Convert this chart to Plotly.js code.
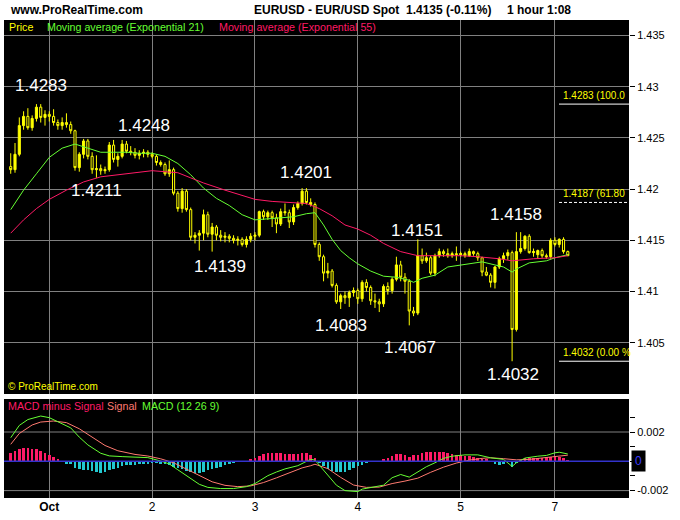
<!DOCTYPE html>
<html><head><meta charset="utf-8">
<script src="https://cdn.plot.ly/plotly-3.0.1.min.js"></script>
<style>html,body{margin:0;padding:0;background:#fff;}#chart{width:680px;height:520px;}</style>
</head><body><div id="chart"></div>
<script>
// ---- Data (hourly EUR/USD, hour index 0 = Oct 1 00:00) ----
const firstHour = -9;
const open  = [1.4222,1.4219,1.4234,1.4262,1.4271,1.4260,1.4269,1.4280,1.4270,1.4273,1.4271,1.4265,1.4262,1.4265,1.4263,1.4257,1.4221,1.4234,1.4247,1.4232,1.4219,1.4220,1.4218,1.4219,1.4243,1.4229,1.4232,1.4244,1.4237,1.4236,1.4233,1.4235,1.4236,1.4234,1.4232,1.4226,1.4224,1.4215,1.4219,1.4196,1.4181,1.4198,1.4180,1.4153,1.4155,1.4157,1.4175,1.4156,1.4163,1.4155,1.4153,1.4154,1.4152,1.4150,1.4151,1.4146,1.4151,1.4154,1.4155,1.4178,1.4173,1.4177,1.4172,1.4166,1.4178,1.4177,1.4168,1.4182,1.4186,1.4198,1.4187,1.4185,1.4146,1.4134,1.4118,1.4120,1.4106,1.4090,1.4096,1.4094,1.4099,1.4101,1.4093,1.4109,1.4104,1.4091,1.4090,1.4088,1.4105,1.4101,1.4112,1.4126,1.4114,1.4110,1.4081,1.4079,1.4135,1.4130,1.4133,1.4118,1.4135,1.4139,1.4137,1.4135,1.4137,1.4136,1.4137,1.4135,1.4139,1.4137,1.4133,1.4119,1.4116,1.4109,1.4124,1.4132,1.4135,1.4138,1.4063,1.4139,1.4142,1.4154,1.4138,1.4136,1.4140,1.4135,1.4134,1.4150,1.4146,1.4151,1.4139];
const high  = [1.4235,1.4245,1.4270,1.4276,1.4279,1.4272,1.4283,1.4283,1.4277,1.4276,1.4278,1.4268,1.4270,1.4274,1.4266,1.4258,1.4236,1.4249,1.4249,1.4236,1.4233,1.4224,1.4222,1.4246,1.4248,1.4235,1.4248,1.4247,1.4242,1.4240,1.4238,1.4239,1.4238,1.4236,1.4234,1.4228,1.4226,1.4228,1.4221,1.4198,1.4201,1.4200,1.4182,1.4158,1.4160,1.4180,1.4178,1.4167,1.4165,1.4160,1.4158,1.4156,1.4155,1.4154,1.4153,1.4154,1.4157,1.4158,1.4179,1.4180,1.4179,1.4179,1.4176,1.4181,1.4186,1.4180,1.4185,1.4188,1.4201,1.4201,1.4191,1.4187,1.4148,1.4136,1.4128,1.4122,1.4108,1.4098,1.4100,1.4101,1.4104,1.4103,1.4111,1.4112,1.4106,1.4098,1.4093,1.4107,1.4109,1.4114,1.4134,1.4130,1.4118,1.4112,1.4085,1.4151,1.4142,1.4138,1.4135,1.4137,1.4142,1.4141,1.4142,1.4139,1.4144,1.4139,1.4139,1.4142,1.4140,1.4139,1.4134,1.4124,1.4118,1.4125,1.4134,1.4138,1.4141,1.4140,1.4158,1.4158,1.4155,1.4156,1.4142,1.4141,1.4142,1.4137,1.4152,1.4153,1.4152,1.4153,1.4140];
const low   = [1.4215,1.4216,1.4232,1.4258,1.4258,1.4257,1.4266,1.4265,1.4262,1.4266,1.4262,1.4258,1.4258,1.4260,1.4254,1.4218,1.4217,1.4230,1.4229,1.4215,1.4211,1.4214,1.4215,1.4217,1.4226,1.4222,1.4230,1.4235,1.4233,1.4230,1.4229,1.4231,1.4231,1.4230,1.4223,1.4222,1.4213,1.4212,1.4194,1.4178,1.4177,1.4178,1.4150,1.4147,1.4140,1.4150,1.4153,1.4139,1.4150,1.4149,1.4148,1.4148,1.4147,1.4145,1.4144,1.4143,1.4148,1.4150,1.4153,1.4170,1.4170,1.4163,1.4157,1.4164,1.4174,1.4162,1.4165,1.4180,1.4184,1.4185,1.4183,1.4143,1.4130,1.4110,1.4113,1.4104,1.4088,1.4083,1.4088,1.4085,1.4095,1.4088,1.4090,1.4100,1.4087,1.4084,1.4080,1.4085,1.4097,1.4098,1.4110,1.4110,1.4098,1.4067,1.4076,1.4077,1.4127,1.4128,1.4116,1.4115,1.4133,1.4134,1.4133,1.4133,1.4130,1.4134,1.4133,1.4134,1.4135,1.4130,1.4115,1.4115,1.4104,1.4103,1.4122,1.4128,1.4131,1.4032,1.4061,1.4137,1.4140,1.4137,1.4134,1.4132,1.4133,1.4132,1.4132,1.4144,1.4143,1.4137,1.4135];
const close = [1.4219,1.4234,1.4262,1.4271,1.4260,1.4269,1.4280,1.4270,1.4273,1.4271,1.4265,1.4262,1.4265,1.4263,1.4257,1.4221,1.4234,1.4247,1.4232,1.4219,1.4220,1.4218,1.4219,1.4243,1.4229,1.4232,1.4244,1.4237,1.4236,1.4233,1.4235,1.4236,1.4234,1.4232,1.4226,1.4224,1.4215,1.4219,1.4196,1.4181,1.4198,1.4180,1.4153,1.4155,1.4157,1.4175,1.4156,1.4163,1.4155,1.4153,1.4154,1.4152,1.4150,1.4151,1.4146,1.4151,1.4154,1.4155,1.4178,1.4173,1.4177,1.4172,1.4166,1.4178,1.4177,1.4168,1.4182,1.4186,1.4198,1.4187,1.4185,1.4146,1.4134,1.4118,1.4120,1.4106,1.4090,1.4096,1.4094,1.4099,1.4101,1.4093,1.4109,1.4104,1.4091,1.4090,1.4088,1.4105,1.4101,1.4112,1.4126,1.4114,1.4110,1.4081,1.4079,1.4135,1.4130,1.4133,1.4118,1.4135,1.4139,1.4137,1.4135,1.4137,1.4136,1.4137,1.4135,1.4139,1.4137,1.4133,1.4119,1.4116,1.4109,1.4124,1.4132,1.4135,1.4138,1.4063,1.4139,1.4142,1.4154,1.4138,1.4139,1.4140,1.4135,1.4134,1.4150,1.4146,1.4151,1.4139,1.4135];

// Moving averages (hour index, value)
const ema21Hours = [-9,-6,-3,0,3,6,9,12,15,18,21,24,27,30,33,36,39,42,45,48,51,54,57,60,62,64,66,68,70,72,75,78,81,84,85,87,90,93,96,99,101,104,106,108,109,112,116,118,121];
const ema21 = [1.4180,1.4199,1.4215,1.4231,1.4240,1.4244,1.4240,1.4236,1.4236,1.4236,1.4235,1.4235,1.4232,1.4225,1.4214,1.4201,1.4191,1.4184,1.4175,1.4170,1.4171,1.4172,1.4173,1.4176,1.4177,1.4165,1.4151,1.4140,1.4133,1.4127,1.4120,1.4115,1.4114,1.4111,1.4109,1.4113,1.4116,1.4124,1.4126,1.4128,1.4129,1.4126,1.4124,1.4119,1.4122,1.4128,1.4130,1.4133,1.4136];
const ema55Hours = [-9,-6,-3,0,4,8,12,16,20,24,27,30,33,36,41,45,48,52,56,60,63,66,69,72,75,78,82,86,90,96,100,105,108,113,118,121];
const ema55 = [1.4157,1.4170,1.4181,1.4190,1.4199,1.4207,1.4212,1.4214,1.4216,1.4218,1.4217,1.4216,1.4211,1.4206,1.4199,1.4194,1.4190,1.4188,1.4187,1.4186,1.4181,1.4174,1.4165,1.4161,1.4155,1.4147,1.4139,1.4135,1.4135,1.4135,1.4134,1.4132,1.4130,1.4132,1.4133,1.4135];

// MACD (12 26 9)
const histogram = [5.9,7.0,8.6,9.3,8.9,8.6,8.2,7.0,5.9,4.1,3.0,1.8,-0.2,-1.6,-2.0,-4.3,-5.5,-5.9,-5.9,-6.6,-7.3,-7.7,-7.3,-5.9,-5.0,-4.3,-3.2,-2.7,-2.7,-2.3,-1.8,-1.8,-1.6,-1.4,-1.4,-1.6,-2.0,-2.7,-3.6,-4.3,-5.5,-6.6,-7.3,-7.7,-7.7,-7.3,-5.9,-5.0,-4.3,-3.6,-2.7,-1.6,-0.9,-0.3,0.0,0.4,1.4,2.3,3.6,4.8,5.5,5.9,5.9,5.5,5.2,4.8,4.8,5.2,5.5,5.9,4.1,2.5,-0.9,-3.2,-5.0,-6.6,-7.5,-7.5,-7.0,-5.7,-4.8,-3.5,-2.2,-0.9,-0.4,0.0,0.3,1.8,2.4,3.5,4.8,5.3,4.0,2.9,4.0,4.6,5.7,6.6,6.2,6.2,6.2,6.2,5.7,5.3,4.6,4.0,3.5,3.5,3.1,2.4,1.8,1.3,0.3,-2.0,-2.4,-1.5,0.5,-4.2,-0.9,0.9,2.2,2.4,2.2,2.2,2.4,2.9,3.1,3.1,2.9,2.2,0.9];
const macdHours = [-9,-7,-5,-2,0,2,5,7,9,12,14,17,20,23,26,28,30,33,35,37,40,43,46,48,51,53,55,58,60,61,62,65,67,69,72,73,76,78,80,82,84,86,88,90,92,94,97,100,103,106,108,109,111,114,116,118,119,121];
const macd = [0.00161,0.00245,0.00285,0.00309,0.00298,0.00272,0.00228,0.00165,0.00112,0.00055,0.00037,0.00032,0.00030,0.00025,0.00002,-0.00018,-0.00058,-0.00115,-0.00157,-0.00178,-0.00186,-0.00186,-0.00173,-0.00152,-0.00098,-0.00073,-0.00052,-0.00030,0.00000,0.00014,0.00008,-0.00090,-0.00163,-0.00200,-0.00207,-0.00190,-0.00172,-0.00163,-0.00112,-0.00090,-0.00108,-0.00075,-0.00037,-0.00010,0.00020,0.00035,0.00044,0.00044,0.00024,0.00013,-0.00035,-0.00010,0.00022,0.00035,0.00040,0.00058,0.00062,0.00050];
const signalHours = [-9,-7,-4,-2,1,4,7,10,13,16,20,23,26,29,32,35,38,41,44,47,50,53,56,59,61,62,65,68,71,74,77,80,83,86,89,92,95,98,101,103,106,109,112,115,118,121];
const signal = [0.00116,0.00190,0.00248,0.00268,0.00275,0.00264,0.00222,0.00165,0.00108,0.00072,0.00047,0.00036,0.00017,-0.00010,-0.00055,-0.00100,-0.00140,-0.00164,-0.00173,-0.00168,-0.00145,-0.00113,-0.00078,-0.00045,-0.00030,-0.00020,-0.00050,-0.00110,-0.00162,-0.00178,-0.00176,-0.00152,-0.00135,-0.00115,-0.00075,-0.00040,-0.00012,0.00008,0.00020,0.00024,0.00018,0.00010,0.00013,0.00023,0.00035,0.00042];

const dayTicks = [0,24,48,72,96,118];
const dayLabels = ['<b>Oct</b>','2','3','4','5','7'];
const priceTicks = [1.405,1.41,1.415,1.42,1.425,1.43,1.435];
const priceTickText = ['1.405','1.41','1.415','1.42','1.425','1.43','1.435'];
const macdTicks = [-0.002,-0.001,0,0.001,0.002,0.003];
const macdTickText = ['-0.002','','','','0.002',''];

const extremes = [
  {text:'1.4283', px:41, py:86}, {text:'1.4248', px:144, py:125}, {text:'1.4211', px:97, py:191},
  {text:'1.4139', px:220, py:266}, {text:'1.4201', px:306, py:172}, {text:'1.4151', px:417, py:230},
  {text:'1.4083', px:341, py:325}, {text:'1.4067', px:410, py:347}, {text:'1.4158', px:516, py:214},
  {text:'1.4032', px:513, py:374}
];
const fibLevels = [1.4283, 1.4187, 1.4032];
const fibLabels = ['1.4283 (100.0', '1.4187 (61.80', '1.4032 (0.00 %'];
const fibDash = ['solid','3px,2px','solid'];

// ---- Build ----
const hours = open.map((_, i) => firstHour + i);
const histHours = histogram.map((_, i) => firstHour + i);
const histVals = histogram.map(v => v / 10000);

const L = 4, R = 629, T = 20, B = 498;
const W = 680, H = 520;
const ax = p => (p - L) / (R - L);
const ay = p => (B - p) / (B - T);
const FONT = 'Liberation Sans, Arial, sans-serif';

const traces = [
  {type:'candlestick', x:hours, open:open, high:high, low:low, close:close, xaxis:'x', yaxis:'y',
   increasing:{line:{color:'#ffff00', width:1}, fillcolor:'#ffff00'},
   decreasing:{line:{color:'#ffff00', width:1}, fillcolor:'#000000'},
   whiskerwidth:0, hoverinfo:'skip', showlegend:false},
  {type:'scatter', mode:'lines', x:ema21Hours, y:ema21, xaxis:'x', yaxis:'y', line:{color:'#66ff33', width:1}, hoverinfo:'skip', showlegend:false},
  {type:'scatter', mode:'lines', x:ema55Hours, y:ema55, xaxis:'x', yaxis:'y', line:{color:'#ff1a66', width:1}, hoverinfo:'skip', showlegend:false},
  {type:'bar', x:histHours, y:histVals, xaxis:'x', yaxis:'y2', width:0.62,
   marker:{color:histVals.map(v => v >= 0 ? '#ff1a66' : '#22c8d0'), line:{width:0}}, hoverinfo:'skip', showlegend:false},
  {type:'scatter', mode:'lines', x:signalHours, y:signal, xaxis:'x', yaxis:'y2', line:{color:'#ff7a70', width:1}, hoverinfo:'skip', showlegend:false},
  {type:'scatter', mode:'lines', x:macdHours, y:macd, xaxis:'x', yaxis:'y2', line:{color:'#66ff33', width:1}, hoverinfo:'skip', showlegend:false}
];

const annotations = [];
const addText = (text, px, py, size, color, xanchor, extra) => annotations.push(Object.assign({
  text:text, xref:'paper', yref:'paper', x:ax(px), y:ay(py), xanchor:xanchor||'left', yanchor:'middle',
  showarrow:false, font:{family:FONT, size:size, color:color}
}, extra||{}));

addText('<b>www.ProRealTime.com</b>', 8, 10, 12, '#000');
addText('<b>EURUSD - EUR/USD Spot</b>', 252, 10, 12, '#000');
addText('<b>1.4135 (-0.11%)</b>', 404, 10, 12, '#000');
addText('<b>1 hour</b>', 505, 10, 12, '#000');
addText('<b>1:08</b>', 545, 10, 12, '#000');
addText('Price', 7, 27, 10.7, '#ffff00');
addText('Moving average (Exponential 21)', 45, 27, 10.7, '#66ff33');
addText('Moving average (Exponential 55)', 217, 27, 10.7, '#ff1a66');
addText('© ProRealTime.com', 6, 386, 10, '#ffff00');
addText('MACD minus Signal', 6, 406, 10.7, '#ff1a66');
addText('Signal', 105, 406, 10.7, '#ff7a70');
addText('MACD (12 26 9)', 140, 406, 10.7, '#66ff33');
extremes.forEach(e => addText(e.text, e.px, e.py, 17, '#ffffff', 'center'));
fibLevels.forEach((lv, i) => annotations.push({
  text:fibLabels[i], xref:'paper', yref:'y', x:ax(561), y:lv, xanchor:'left', yanchor:'bottom', yshift:1,
  showarrow:false, font:{family:FONT, size:10, color:'#ffff00'}
}));
annotations.push({text:'0', xref:'paper', yref:'y2', x:ax(631), y:0, xanchor:'left', yanchor:'middle',
  showarrow:false, bgcolor:'#000000', borderpad:3, font:{family:FONT, size:12, color:'#3b3bff'}});

const shapes = [];
fibLevels.forEach((lv, i) => shapes.push({type:'line', xref:'paper', yref:'y', x0:ax(559), x1:1, y0:lv, y1:lv,
  line:{color:'#ffffff', width:1, dash:fibDash[i]}, layer:'above'}));
[-0.002, 0.002].forEach(v => shapes.push({type:'line', xref:'paper', yref:'y2', x0:0, x1:1, y0:v, y1:v,
  line:{color:'#808080', width:1}, layer:'below'}));
shapes.push({type:'line', xref:'paper', yref:'y2', x0:0, x1:1, y0:0, y1:0, line:{color:'#3333cc', width:1.5}, layer:'above'});

const layout = {
  width:W, height:H, margin:{l:L, r:W-R, t:T, b:H-B, pad:0},
  paper_bgcolor:'#ffffff', plot_bgcolor:'#000000', showlegend:false, dragmode:false,
  font:{family:FONT, color:'#000'},
  xaxis:{domain:[0,1], anchor:'y2', range:[-10.57, 135.28], tickmode:'array', tickvals:dayTicks, ticktext:dayLabels,
    showgrid:true, gridcolor:'#808080', gridwidth:1, zeroline:false, showline:false, ticks:'',
    tickfont:{family:FONT, size:12, color:'#000'}, rangeslider:{visible:false}, fixedrange:true},
  yaxis:{domain:[(B-394)/(B-T), 1], anchor:'x', side:'right', range:[1.40000, 1.43651], tickmode:'array',
    tickvals:priceTicks, ticktext:priceTickText, showgrid:true, gridcolor:'#808080', gridwidth:1, zeroline:false,
    ticks:'outside', ticklen:5, tickcolor:'#000', tickfont:{family:FONT, size:11, color:'#000'}, fixedrange:true},
  yaxis2:{domain:[0, (B-399)/(B-T)], anchor:'x', side:'right', range:[-0.002505, 0.004253], tickmode:'array',
    tickvals:macdTicks, ticktext:macdTickText, showgrid:false, zeroline:false,
    ticks:'outside', ticklen:5, tickcolor:'#000', tickfont:{family:FONT, size:11, color:'#000'}, fixedrange:true},
  annotations:annotations, shapes:shapes, bargap:0
};

Plotly.newPlot('chart', traces, layout, {staticPlot:true, displayModeBar:false});
</script></body></html>
